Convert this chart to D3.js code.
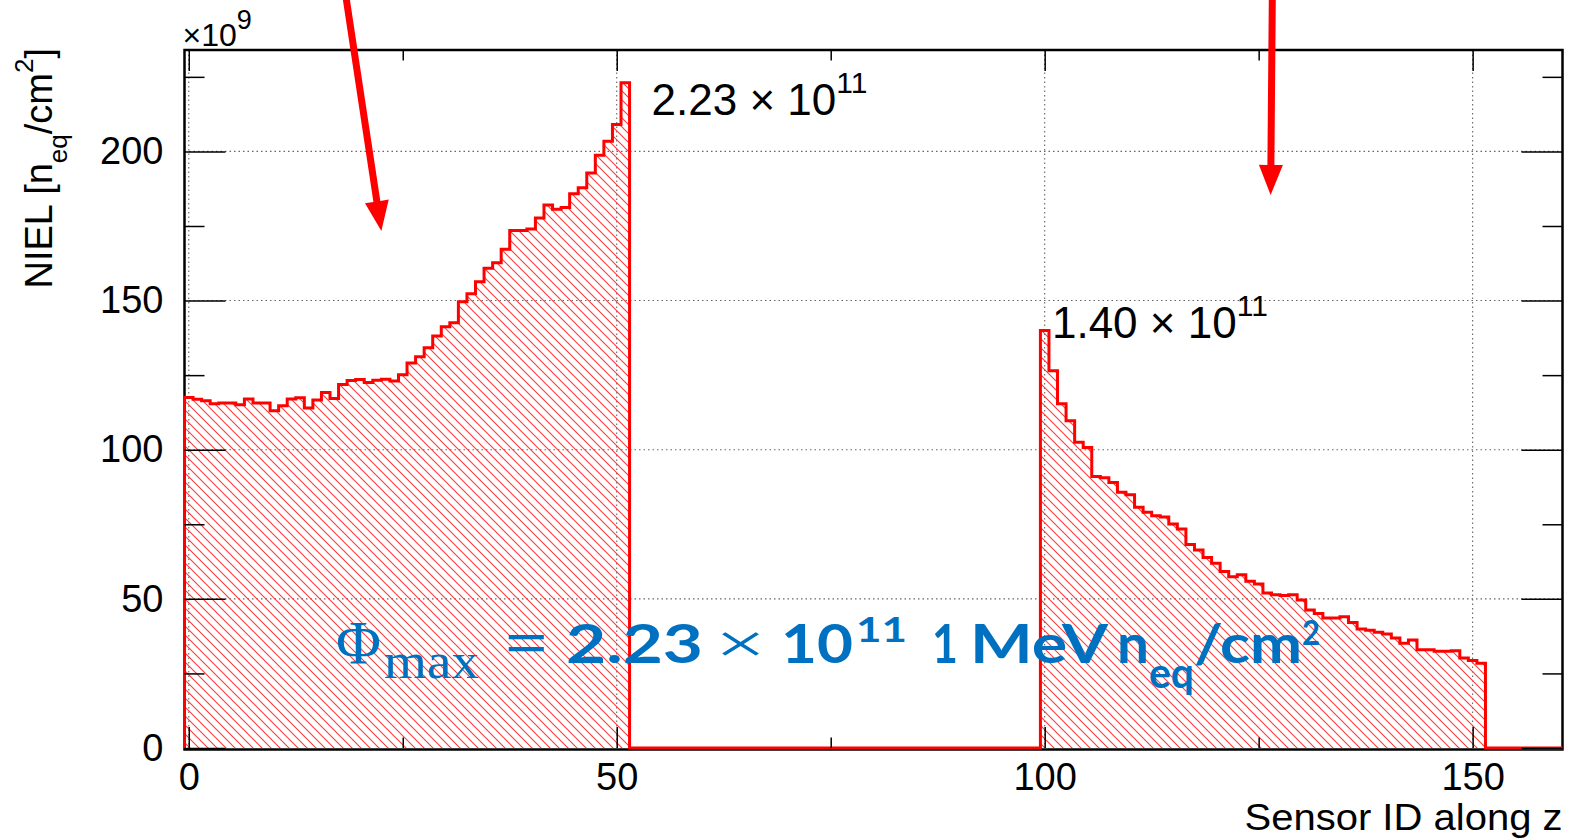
<!DOCTYPE html>
<html><head><meta charset="utf-8">
<script src="https://cdn.jsdelivr.net/npm/d3@7"></script>
<style>body{margin:0;background:#fff}svg{display:block}</style>
</head><body>
<svg id="chart" width="1570" height="838"></svg>
<script>
// ---------------- data ----------------
const leftStartId = 0;
const leftValues = [117.5, 116.9, 116.4, 115.4, 115.7, 115.7, 115.1, 117.0, 115.7, 115.7,
  113.1, 114.7, 117.0, 117.4, 114.0, 116.7, 119.2, 117.2, 121.9, 123.2,
  123.5, 122.5, 123.3, 123.6, 123.0, 125.1, 129.1, 131.2, 134.2, 138.1,
  141.2, 142.6, 149.6, 152.3, 156.3, 160.8, 162.7, 167.2, 173.5, 173.5,
  174.0, 177.7, 182.0, 180.6, 181.2, 185.8, 187.8, 192.8, 198.7, 203.4,
  209.0, 223.0];
const rightStartId = 100;
const rightValues = [140.0, 126.5, 115.4, 109.7, 102.5, 100.7, 91.0, 90.6, 89.0, 85.7,
  84.9, 80.7, 79.0, 77.9, 77.4, 75.1, 73.4, 68.2, 66.4, 63.9,
  61.9, 59.2, 57.4, 58.1, 55.9, 55.0, 52.0, 51.4, 51.1, 51.4,
  49.6, 46.3, 45.1, 43.6, 43.6, 44.0, 42.1, 39.9, 39.5, 38.8,
  38.2, 36.9, 35.1, 36.2, 32.9, 32.9, 32.4, 32.4, 32.6, 30.2,
  29.3, 28.4];
const nSensors = 161;            // sensor IDs 0..160
const xDomain = [-0.5, 160.5];
const yDomain = [0, 234];
const xTicks = [0, 50, 100, 150];
const xMinorTicks = [25, 75, 125];
const yTicks = [0, 50, 100, 150, 200];
const yMinorTicks = [25, 75, 125, 175, 225];
const yExponent = "9";
const peakLabels = [
  {id: 51, value: 223, mant: "2.23 × 10", exp: "11"},
  {id: 100, value: 140, mant: "1.40 × 10", exp: "11"}
];
const arrowsData = [   // start and tip in data coordinates
  {x1: 18.3, y1: 253, x2: 22.5, y2: 173.3},
  {x1: 126.6, y1: 253, x2: 126.4, y2: 185.4}
];

// ---------------- chart ----------------
const svg = d3.select("#chart");
const L = 184.5, R = 1562.5, T = 50, B = 748;
const x = d3.scaleLinear().domain(xDomain).range([L, R]);
const y = d3.scaleLinear().domain(yDomain).range([B, T]);
const SANS = "'Liberation Sans', Arial, Helvetica, sans-serif";

svg.append("rect").attr("width", 1570).attr("height", 838).attr("fill", "#fff");

const defs = svg.append("defs");
const pat = defs.append("pattern").attr("id", "hatch").attr("patternUnits", "userSpaceOnUse")
  .attr("width", 9).attr("height", 9);
pat.append("path").attr("d", "M0,0 L9,9 M-1,8 L1,10 M8,-1 L10,1")
  .attr("stroke", "#ff3b3b").attr("stroke-width", 1.1).attr("fill", "none");

// grid
const grid = svg.append("g").attr("stroke", "#666").attr("stroke-width", 1.1).attr("stroke-dasharray", "1.5,3");
grid.selectAll(".gy").data(yTicks.filter(d => d > 0)).join("line")
  .attr("x1", L).attr("x2", R).attr("y1", d => y(d)).attr("y2", d => y(d));
grid.selectAll(".gx").data(xTicks).join("line")
  .attr("x1", d => x(d)).attr("x2", d => x(d)).attr("y1", T).attr("y2", B);

// bins
const bins = d3.range(nSensors).map(id => {
  let v = 0;
  if (id >= leftStartId && id < leftStartId + leftValues.length) v = leftValues[id - leftStartId];
  else if (id >= rightStartId && id < rightStartId + rightValues.length) v = rightValues[id - rightStartId];
  return {x: id - 0.5, v};
});
const pts = [{x: xDomain[0], v: 0}, ...bins, {x: xDomain[1], v: 0}];

const area = d3.area().curve(d3.curveStepAfter).x(d => x(d.x)).y0(y(0)).y1(d => y(d.v));
svg.append("path").datum(pts).attr("d", area).attr("fill", "url(#hatch)");

// frame
svg.append("rect").attr("x", L).attr("y", T).attr("width", R - L).attr("height", B - T + 1.5)
  .attr("fill", "none").attr("stroke", "#000").attr("stroke-width", 2.5);

const line = d3.line().curve(d3.curveStepAfter).x(d => x(d.x)).y(d => y(d.v));
svg.append("path").datum(pts).attr("d", line).attr("fill", "none")
  .attr("stroke", "#ff0000").attr("stroke-width", 3).attr("stroke-linejoin", "miter");

// ticks
function ticks(axis, vals, size, tr) {
  svg.append("g").attr("transform", tr)
    .call(axis.tickValues(vals).tickSize(size).tickFormat(""))
    .call(g => g.select(".domain").remove())
    .selectAll("line").attr("stroke", "#000").attr("stroke-width", 1.5);
}
ticks(d3.axisRight(y), yTicks, 41, `translate(${L},0)`);
ticks(d3.axisRight(y), yMinorTicks, 20, `translate(${L},0)`);
ticks(d3.axisLeft(y), yTicks, 41, `translate(${R},0)`);
ticks(d3.axisLeft(y), yMinorTicks, 20, `translate(${R},0)`);
ticks(d3.axisTop(x), xTicks, 21, `translate(0,${B})`);
ticks(d3.axisTop(x), xMinorTicks, 10.5, `translate(0,${B})`);
ticks(d3.axisBottom(x), xTicks, 21, `translate(0,${T})`);
ticks(d3.axisBottom(x), xMinorTicks, 10.5, `translate(0,${T})`);

// tick labels
svg.append("g").attr("transform", `translate(${L},0)`)
  .call(d3.axisLeft(y).tickValues(yTicks).tickSize(0).tickPadding(21).tickFormat(d3.format("d")))
  .call(g => g.select(".domain").remove())
  .selectAll("text").attr("font-family", SANS).attr("font-size", 38).attr("fill", "#000");
svg.append("g").attr("transform", `translate(0,${B})`)
  .call(d3.axisBottom(x).tickValues(xTicks).tickSize(0).tickPadding(15).tickFormat(d3.format("d")))
  .call(g => g.select(".domain").remove())
  .selectAll("text").attr("font-family", SANS).attr("font-size", 38).attr("fill", "#000");

// exponent ×10^9
const ex = svg.append("text").attr("x", L - 2).attr("y", 46).attr("font-family", SANS).attr("fill", "#000");
ex.append("tspan").attr("font-size", 32).text("×10");
ex.append("tspan").attr("font-size", 27).attr("dy", -17).text(yExponent);

// axis titles
const yt = svg.append("text").attr("transform", `translate(52,${T - 2}) rotate(-90)`)
  .attr("text-anchor", "end").attr("font-family", SANS).attr("font-size", 38).attr("fill", "#000");
yt.append("tspan").text("NIEL [n");
yt.append("tspan").attr("font-size", 26).attr("dy", 15).text("eq");
yt.append("tspan").attr("dy", -15).text("/cm");
yt.append("tspan").attr("font-size", 26).attr("dy", -19).text("2");
yt.append("tspan").attr("dy", 19).text("]");

svg.append("text").attr("x", R).attr("y", 830).attr("text-anchor", "end")
  .attr("font-family", SANS).attr("font-size", 36).attr("fill", "#000")
  .attr("textLength", 318).attr("lengthAdjust", "spacingAndGlyphs").text("Sensor ID along z");

// peak labels
const offsets = [{dx: 22, dy: 32}, {dx: 3, dy: 8}];
peakLabels.forEach((p, i) => {
  const t = svg.append("text").attr("x", x(p.id + 0.5) + offsets[i].dx).attr("y", y(p.value) + offsets[i].dy)
    .attr("font-family", SANS).attr("font-size", 44).attr("fill", "#000");
  t.append("tspan").text(p.mant);
  t.append("tspan").attr("font-size", 30).attr("dy", -22).text(p.exp);
});

// blue formula
const BLUE = "#0070c0";
const SERIF = "'Liberation Serif', 'DejaVu Serif', serif";
const BOLD = "Lato, 'Open Sans', sans-serif";
const parts = [
  {t: "Φ", x0: 336, x1: 381, b: 663, s: 62, f: SERIF, w: 400},
  {t: "max", x0: 384, x1: 479, b: 678, s: 50, f: SERIF, w: 400},
  {t: "=", x0: 505, x1: 548, b: 663, s: 62, f: SERIF, w: 700},
  {t: "2.23", x0: 566, x1: 703, b: 663, s: 54, f: BOLD, w: 700},
  {t: "×", x0: 715, x1: 766, b: 663, s: 58, f: SERIF, w: 400},
  {t: "10", x0: 781, x1: 853, b: 663, s: 54, f: BOLD, w: 700},
  {t: "11", x0: 856, x1: 907, b: 642, s: 35, f: BOLD, w: 700},
  {t: "1", x0: 932, x1: 958, b: 663, s: 54, f: BOLD, w: 700},
  {t: "MeV", x0: 970, x1: 1108, b: 663, s: 54, f: BOLD, w: 700},
  {t: "n", x0: 1117, x1: 1149, b: 663, s: 54, f: BOLD, w: 700},
  {t: "eq", x0: 1149, x1: 1194, b: 688, s: 42, f: BOLD, w: 700},
  {t: "/cm", x0: 1194, x1: 1302, b: 663, s: 54, f: BOLD, w: 700},
  {t: "2", x0: 1302, x1: 1320, b: 645, s: 35, f: BOLD, w: 700}
];
const fg = svg.append("g").attr("fill", BLUE);
parts.forEach(p => {
  fg.append("text").attr("x", p.x0).attr("y", p.b).attr("font-family", p.f).attr("font-size", p.s)
    .attr("font-weight", p.w).attr("textLength", p.x1 - p.x0).attr("lengthAdjust", "spacingAndGlyphs").text(p.t);
});

// red arrows
const ag = svg.append("g").attr("fill", "#ff0000");
arrowsData.forEach(a => {
  const sx = x(a.x1), sy = y(a.y1), tx = x(a.x2), ty = y(a.y2);
  const dx = tx - sx, dy = ty - sy, len = Math.hypot(dx, dy);
  const ux = dx / len, uy = dy / len, nx = -uy, ny = ux;
  const sw = 3.5, hl = 30, hw = 12;
  const bx = tx - ux * hl, by = ty - uy * hl;
  const p = [
    [sx + nx * sw, sy + ny * sw], [bx + nx * sw, by + ny * sw], [bx + nx * hw, by + ny * hw],
    [tx, ty], [bx - nx * hw, by - ny * hw], [bx - nx * sw, by - ny * sw], [sx - nx * sw, sy - ny * sw]
  ];
  ag.append("path").attr("d", "M" + p.map(q => q.join(",")).join("L") + "Z");
});
</script>
</body></html>
